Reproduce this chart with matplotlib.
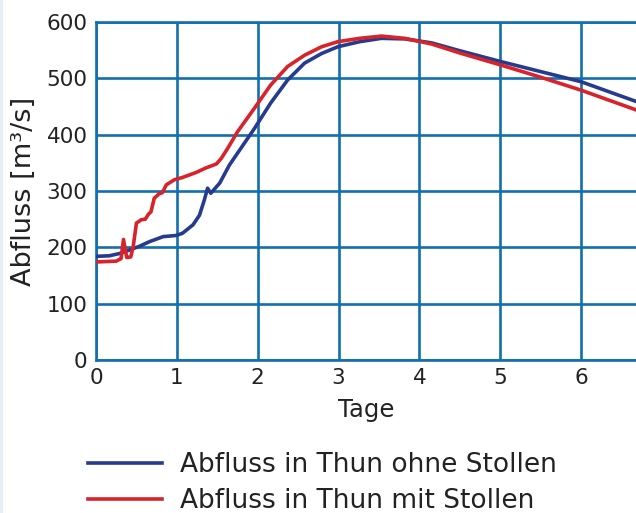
import matplotlib
matplotlib.use("Agg")
import matplotlib.pyplot as plt
from matplotlib.lines import Line2D
from matplotlib.patches import Rectangle

# Data
days_ohne = [0, 0.165, 0.29, 0.41, 0.54, 0.66, 0.83, 0.99, 1.07, 1.2, 1.28, 1.34, 1.38, 1.42,
             1.53, 1.65, 1.75, 1.96, 2.16, 2.37, 2.58, 2.79, 2.99, 3.26, 3.53, 3.82,
             4.15, 4.5, 5.0, 5.5, 6.0, 6.68]
flow_ohne = [184, 185, 189, 195, 202, 210, 219, 221, 225, 240, 257, 284, 305, 296,
             314, 346, 367, 411, 456, 497, 527, 544, 556, 565, 571, 570,
             563, 549, 530, 512, 494, 459]

days_mit = [0, 0.25, 0.31, 0.34, 0.38, 0.43, 0.46, 0.5, 0.56, 0.61, 0.65, 0.68, 0.72, 0.78,
            0.82, 0.87, 0.97, 1.07, 1.24, 1.36, 1.49, 1.55, 1.63, 1.75, 1.96, 2.16, 2.37,
            2.58, 2.79, 2.99, 3.26, 3.53, 3.82, 4.15, 4.5, 5.0, 5.5, 6.0, 6.68]
flow_mit = [174, 175.5, 180, 214, 182, 183, 201, 243, 249, 250, 259, 263, 287, 295,
            297, 311, 320, 324, 333, 341, 348, 358, 376, 405, 447, 488, 521,
            541, 556, 565, 571, 575, 571, 561, 545, 524, 502, 479, 444]

x_ticks = [0, 1, 2, 3, 4, 5, 6]
y_ticks = [0, 100, 200, 300, 400, 500, 600]
label_ohne = "Abfluss in Thun ohne Stollen"
label_mit = "Abfluss in Thun mit Stollen"

BLUE = "#263b8e"
RED = "#d8232a"
GRID = "#1170ad"

fig = plt.figure(figsize=(6.36, 5.13), dpi=100)
fig.patch.set_facecolor("white")
fig.patches.append(Rectangle((0, 0), 3 / 636, 1, transform=fig.transFigure,
                             facecolor="#e6eff8", edgecolor="none"))

ax = fig.add_axes([96 / 636, 1 - 360 / 513, 1 - 96 / 636, (360 - 22) / 513])
ax.plot(days_ohne, flow_ohne, color=BLUE, lw=2.6, zorder=3)
ax.plot(days_mit, flow_mit, color=RED, lw=2.6, zorder=3)

ax.set_xlim(0, 6.68)
ax.set_ylim(0, 600)
ax.set_xticks(x_ticks)
ax.set_yticks(y_ticks)
ax.grid(True, color=GRID, lw=1.9, zorder=1)
ax.set_axisbelow(True)
for side in ["left", "bottom", "top"]:
    ax.spines[side].set_color(GRID)
    ax.spines[side].set_linewidth(1.9)
ax.spines["right"].set_visible(False)
ax.tick_params(length=0, labelsize=15.5, pad=6, colors="#222222")
ax.set_xlabel("Tage", fontsize=17.5, color="#222222", labelpad=7)
ax.set_ylabel("Abfluss [m³/s]", fontsize=19.5, color="#222222", labelpad=7)

handles = [Line2D([], [], color=BLUE, lw=2.6), Line2D([], [], color=RED, lw=2.6)]
fig.legend(handles, [label_ohne, label_mit], loc="upper left",
           bbox_to_anchor=(64 / 636, 1 - 428 / 513), frameon=False,
           fontsize=19, handlelength=2.8, handletextpad=0.7, labelspacing=0.4,
           labelcolor="#222222")

fig.savefig("out.png", dpi=100)
